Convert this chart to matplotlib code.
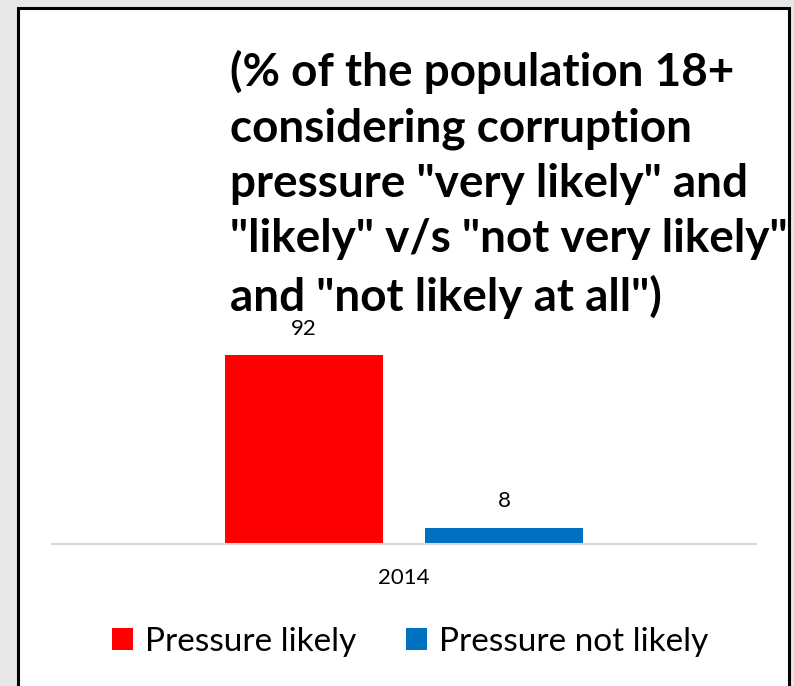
import matplotlib.pyplot as plt
from matplotlib.patches import Rectangle

years = ["2014"]
series = ["Pressure likely", "Pressure not likely"]
values = [92, 8]
colors = ["#ff0000", "#0070c0"]

title = ('(% of the population 18+\nconsidering corruption\npressure "very likely" and\n'
         '"likely" v/s "not very likely"\nand "not likely at all")')

W, H = 794, 686
fig = plt.figure(figsize=(W / 100, H / 100), dpi=100)
fig.patch.set_facecolor("#e7e7e9")

# white panel with a dark frame, kept behind the axes
fig.patches.append(Rectangle((18 / W, -0.01), 771 / W, (H - 8) / H + 0.01,
                             transform=fig.transFigure, facecolor="white",
                             edgecolor="black", linewidth=2.2, zorder=-5))

ax = fig.add_axes([52 / W, (H - 544) / H, 704 / W, 205 / H])
ax.set_facecolor("none")
ax.set_xlim(-0.5, 0.5)
ax.set_ylim(0, 100)

width = 0.224
offsets = [-0.1425, 0.1425]
for name, v, c, off in zip(series, values, colors, offsets):
    ax.bar(off, v, width=width, color=c, label=name, zorder=2)
    ax.annotate(str(v), (off, v), xytext=(0, 19), textcoords="offset points",
                ha="center", va="center", fontsize=16, family="Lato")

for s in ["top", "right", "left"]:
    ax.spines[s].set_visible(False)
ax.spines["bottom"].set_color("#d9d9d9")
ax.spines["bottom"].set_linewidth(1.5)
ax.set_yticks([])
ax.set_xticks([0])
ax.set_xticklabels(years, fontsize=16, family="Lato")
ax.tick_params(axis="x", length=0, pad=17)

fig.text(230 / W, 1 - 50 / H, title, ha="left", va="top", fontsize=33,
         fontweight="bold", family="Lato", linespacing=1.39)

leg = fig.legend(loc="center", bbox_to_anchor=(410 / W, 1 - 642 / H), ncol=2,
                 frameon=False, prop={"family": "Lato", "size": 24},
                 handlelength=0.64, handleheight=0.64, handletextpad=0.35,
                 columnspacing=1.5)

fig.savefig("out.png", dpi=100, facecolor=fig.get_facecolor())
